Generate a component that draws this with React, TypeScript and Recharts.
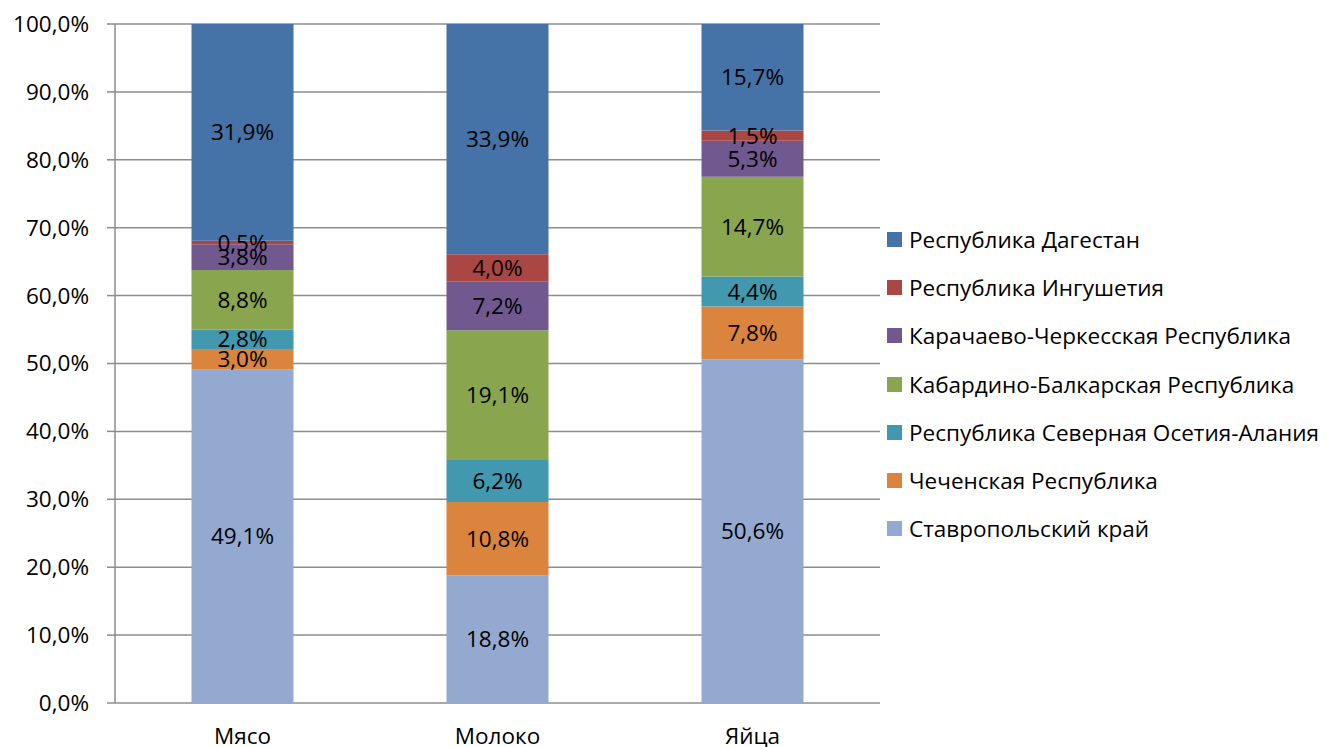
import React from 'react';
import { BarChart, Bar, XAxis, YAxis, CartesianGrid, Legend, LabelList } from 'recharts';

const categories = ['Мясо', 'Молоко', 'Яйца'];

// bottom to top of each stack
const stavropol = [49.1, 18.8, 50.6];
const chechnya = [3.0, 10.8, 7.8];
const ossetia = [2.8, 6.2, 4.4];
const kabarda = [8.8, 19.1, 14.7];
const karachay = [3.8, 7.2, 5.3];
const ingushetia = [0.5, 4.0, 1.5];
const dagestan = [31.9, 33.9, 15.7];

const yTicks = [0, 0.1, 0.2, 0.3, 0.4, 0.5, 0.6, 0.7, 0.8, 0.9, 1];
const boundaryTicks = [0, 1, 2, 3];

const series = [
  { key: 'stavropol', name: 'Ставропольский край', color: '#93A9CF', values: stavropol },
  { key: 'chechnya', name: 'Чеченская Республика', color: '#DB843D', values: chechnya },
  { key: 'ossetia', name: 'Республика Северная Осетия-Алания', color: '#4198AF', values: ossetia },
  { key: 'kabarda', name: 'Кабардино-Балкарская Республика', color: '#89A54E', values: kabarda },
  { key: 'karachay', name: 'Карачаево-Черкесская Республика', color: '#71588F', values: karachay },
  { key: 'ingushetia', name: 'Республика Ингушетия', color: '#AA4643', values: ingushetia },
  { key: 'dagestan', name: 'Республика Дагестан', color: '#4572A7', values: dagestan },
];

const data = categories.map((c, i) => {
  const row: any = { name: c };
  series.forEach((s) => {
    row[s.key] = s.values[i];
  });
  return row;
});

const FONT = '"Open Sans", sans-serif';
const FS = 22.5;
const fmtPct = (v: number) => v.toFixed(1).replace('.', ',') + '%';

const renderLegend = () => (
  <div style={{ display: 'flex', flexDirection: 'column', fontFamily: FONT }}>
    {[...series].reverse().map((s) => (
      <div key={s.key} style={{ display: 'flex', alignItems: 'center', height: 48.3 }}>
        <span style={{ width: 15, height: 15, background: s.color, marginRight: 7, display: 'inline-block' }} />
        <span style={{ fontSize: FS, color: '#000', whiteSpace: 'nowrap' }}>{s.name}</span>
      </div>
    ))}
  </div>
);

export default function App() {
  return (
    <div style={{ width: 1324, height: 739, position: 'relative' }}>
      <BarChart
        width={1324}
        height={739}
        data={data}
        stackOffset="expand"
        barCategoryGap="30%"
        margin={{ top: 16, right: 452, bottom: 0, left: 0 }}
      >
        <CartesianGrid vertical={false} stroke="#8c8c8c" strokeWidth={1.5} />
        <XAxis
          xAxisId="bounds"
          type="number"
          domain={[0, 3]}
          ticks={boundaryTicks}
          tickFormatter={() => ''}
          height={0}
          tickSize={8}
          axisLine={{ stroke: '#8c8c8c', strokeWidth: 1.5 }}
          tickLine={{ stroke: '#8c8c8c', strokeWidth: 1.5 }}
        />
        <XAxis
          dataKey="name"
          height={44}
          axisLine={false}
          tickLine={false}
          tickMargin={19}
          tick={{ fill: '#000', fontSize: FS, fontFamily: FONT }}
        />
        <YAxis
          width={107}
          domain={[0, 1]}
          ticks={yTicks}
          tickFormatter={(v: number) => fmtPct(v * 100)}
          tickSize={8}
          tickMargin={18}
          axisLine={{ stroke: '#8c8c8c', strokeWidth: 1.5 }}
          tickLine={{ stroke: '#8c8c8c', strokeWidth: 1.5 }}
          tick={{ fill: '#000', fontSize: FS, fontFamily: FONT }}
        />
        {series.map((s) => (
          <Bar key={s.key} dataKey={s.key} name={s.name} stackId="a" fill={s.color} isAnimationActive={false}>
            <LabelList
              dataKey={s.key}
              position="center"
              formatter={(v: any) => fmtPct(Number(v))}
              style={{ fill: '#000', fontSize: FS, fontFamily: FONT }}
            />
          </Bar>
        ))}
        <Legend
          layout="vertical"
          align="center"
          verticalAlign="middle"
          content={renderLegend}
          wrapperStyle={{ left: 879, top: 207, width: 445 }}
        />
      </BarChart>
    </div>
  );
}
